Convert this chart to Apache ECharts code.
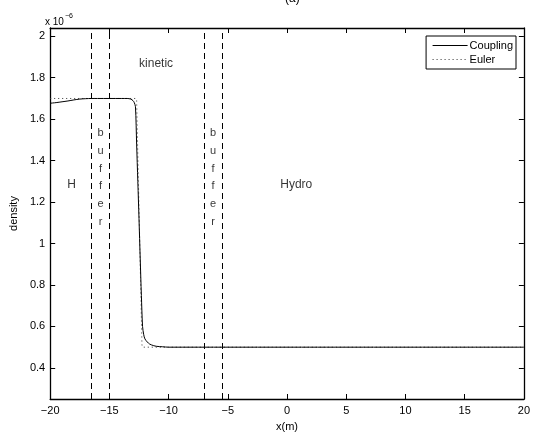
<!DOCTYPE html>
<html lang="en">
<head>
    <meta charset="UTF-8">
    <title>density</title>
    <script src="https://cdn.jsdelivr.net/npm/echarts@6/dist/echarts.min.js"></script>
    <style>
        html, body { margin: 0; padding: 0; background: #fff; }
        #main { width: 533px; height: 437px; }
    </style>
</head>
<body>
<div id="main"></div>
<script type="text/javascript">
    // values in units of 1e-6
    var couplingX = [-20, -19.5, -19, -18.5, -18, -17.5, -17, -16.5, -16, -15, -14, -13.5, -13.2, -13.0, -12.9, -12.8,
        -12.7, -12.6, -12.5, -12.4, -12.3, -12.2, -12.1, -12.0, -11.8, -11.6, -11.3, -11.0, -10.5, -10, -5, 0, 20];
    var couplingY = [1.677, 1.680, 1.684, 1.688, 1.693, 1.697, 1.699, 1.700, 1.700, 1.700, 1.700, 1.700, 1.697, 1.689, 1.680, 1.660,
        1.480, 1.300, 1.120, 0.930, 0.750, 0.600, 0.560, 0.540, 0.525, 0.515, 0.508, 0.504, 0.502, 0.500, 0.500, 0.500, 0.500];

    var eulerX = [-20, -12.75, -12.7, -12.25, -12.2, 20];
    var eulerY = [1.700, 1.700, 1.690, 0.510, 0.500, 0.500];

    var bufferLines = [-16.5, -15, -7, -5.5];

    var xTicks = [-20, -15, -10, -5, 0, 5, 10, 15, 20];
    var yTicks = [0.4, 0.6, 0.8, 1, 1.2, 1.4, 1.6, 1.8, 2];

    var labelText = ['kinetic', 'H', 'Hydro'];
    var labelX = [-11.06, -18.2, 0.78];
    var labelY = [1.869, 1.286, 1.286];

    var bufferLetters = ['b', 'u', 'f', 'f', 'e', 'r'];
    var bufferX = [-15.75, -6.25];
    var bufferY = [1.532, 1.447, 1.361, 1.276, 1.191, 1.105];

    function zip(xs, ys) {
        return xs.map(function (x, i) { return [x, ys[i]]; });
    }

    function fmtX(v) {
        return v < 0 ? '\u2212' + Math.abs(v) : String(v);
    }

    var font = 'Liberation Sans, Arial, sans-serif';

    var textData = labelText.map(function (t, i) {
        return { name: t, value: [labelX[i], labelY[i]] };
    });
    var letterData = [];
    bufferX.forEach(function (bx) {
        bufferLetters.forEach(function (l, i) {
            letterData.push({ name: l, value: [bx, bufferY[i]] });
        });
    });

    var axisBase = {
        axisLine: { show: true, onZero: false, lineStyle: { color: '#000', width: 1.3 } },
        axisTick: { show: true, inside: true, length: 5, lineStyle: { color: '#000', width: 1 } },
        splitLine: { show: false }
    };

    var myChart = echarts.init(document.getElementById('main'));

    var option = {
        backgroundColor: '#fff',
        animation: false,
        title: [
            {
                text: '(a)',
                left: 280,
                top: -12,
                textStyle: { fontFamily: font, fontSize: 12, fontWeight: 'normal', color: '#000' }
            },
            {
                text: '{a|x 10}{b|\u22126}',
                left: 45,
                top: 13,
                padding: 0,
                textStyle: {
                    fontWeight: 'normal',
                    rich: {
                        a: { fontFamily: font, fontSize: 10, fontWeight: 'normal', color: '#000', verticalAlign: 'bottom', lineHeight: 14 },
                        b: { fontFamily: font, fontSize: 7, fontWeight: 'normal', color: '#000', verticalAlign: 'top', lineHeight: 14, padding: [0, 0, 6, 1] }
                    }
                }
            }
        ],
        legend: {
            data: ['Coupling', 'Euler'],
            orient: 'vertical',
            right: 17,
            top: 36,
            itemWidth: 35,
            itemHeight: 8,
            itemGap: 3,
            padding: [4, 3, 4, 6],
            borderColor: '#000',
            borderWidth: 1,
            align: 'left',
            itemStyle: { opacity: 0 },
            lineStyle: { width: 1 },
            textStyle: { fontFamily: font, fontSize: 11, color: '#000', padding: [0, 0, 0, -3] }
        },
        grid: { left: 47, right: 8, top: 28, bottom: 32, containLabel: false },
        xAxis: [
            Object.assign({}, axisBase, {
                type: 'value',
                min: -20,
                max: 20,
                interval: 5,
                name: 'x(m)',
                nameLocation: 'middle',
                nameGap: 22,
                nameTextStyle: { fontFamily: font, fontSize: 11, color: '#000' },
                axisLabel: {
                    fontFamily: font, fontSize: 11, color: '#000', margin: 6,
                    formatter: fmtX,
                    customValues: xTicks
                }
            }),
            Object.assign({}, axisBase, {
                type: 'value',
                position: 'top',
                min: -20,
                max: 20,
                interval: 5,
                axisLabel: { show: false }
            })
        ],
        yAxis: [
            Object.assign({}, axisBase, {
                type: 'value',
                min: 0.25,
                max: 2.04,
                name: 'density',
                nameLocation: 'middle',
                nameGap: 30,
                nameRotate: 90,
                nameTextStyle: { fontFamily: font, fontSize: 11, color: '#000' },
                axisTick: { show: true, inside: true, length: 5, customValues: yTicks, lineStyle: { color: '#000', width: 1 } },
                axisLabel: {
                    fontFamily: font, fontSize: 11, color: '#000', margin: 5,
                    customValues: yTicks,
                    formatter: function (v) { return String(Math.round(v * 10) / 10); }
                }
            }),
            Object.assign({}, axisBase, {
                type: 'value',
                position: 'right',
                min: 0.25,
                max: 2.04,
                axisTick: { show: true, inside: true, length: 5, customValues: yTicks, lineStyle: { color: '#000', width: 1 } },
                axisLabel: { show: false }
            })
        ],
        series: [
            {
                name: 'Coupling',
                type: 'line',
                data: zip(couplingX, couplingY),
                symbol: 'none',
                smooth: 0.3,
                lineStyle: { color: '#000', width: 1 },
                itemStyle: { color: '#000' },
                markLine: {
                    silent: true,
                    symbol: 'none',
                    label: { show: false },
                    lineStyle: { color: '#000', width: 1, type: [6, 4] },
                    data: bufferLines.map(function (x) { return { xAxis: x }; })
                },
                z: 3
            },
            {
                name: 'Euler',
                type: 'line',
                data: zip(eulerX, eulerY),
                symbol: 'none',
                lineStyle: { color: '#333', width: 1, type: [1, 3] },
                itemStyle: { color: '#333' },
                z: 2
            },
            {
                name: 'labels',
                type: 'scatter',
                symbolSize: 0,
                data: textData,
                silent: true,
                label: {
                    show: true, position: 'inside', formatter: '{b}',
                    fontFamily: font, fontSize: 12, color: '#000'
                }
            },
            {
                name: 'buffer',
                type: 'scatter',
                symbolSize: 0,
                data: letterData,
                silent: true,
                label: {
                    show: true, position: 'inside', formatter: '{b}',
                    fontFamily: font, fontSize: 11, color: '#000'
                }
            }
        ]
    };

    myChart.setOption(option);
</script>
</body>
</html>
